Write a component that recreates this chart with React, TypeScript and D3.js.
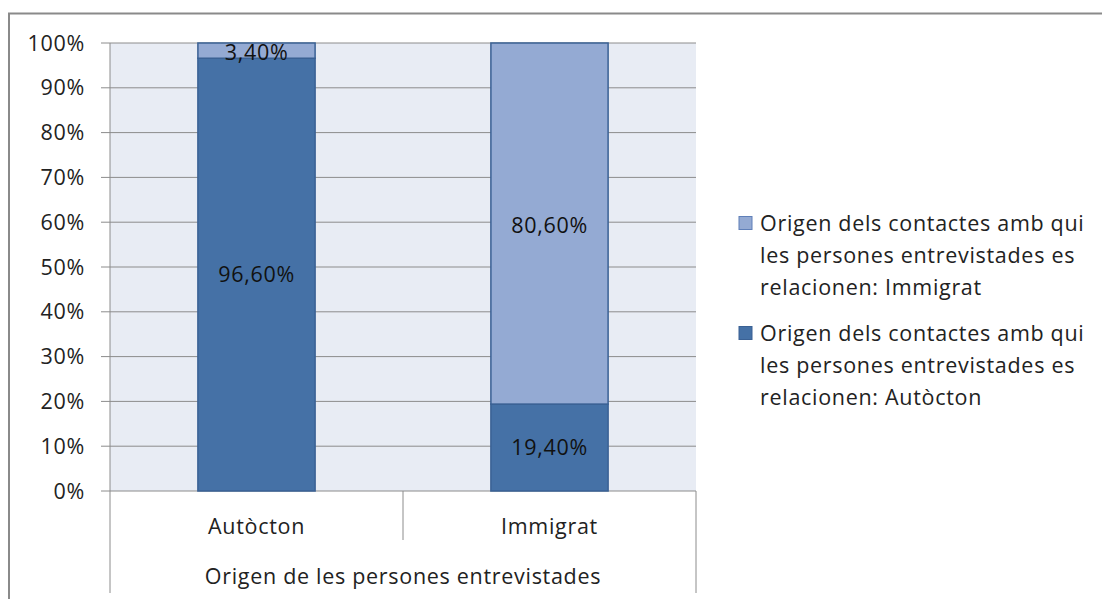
import React from "react";
import * as d3 from "d3";

const categories = ["Autòcton", "Immigrat"];
const autocton = [96.6, 19.4];
const immigrat = [3.4, 80.6];
const yTicks = [0, 10, 20, 30, 40, 50, 60, 70, 80, 90, 100];
const groupLabel = "Origen de les persones entrevistades";
const legendItems = [
  { lines: ["Origen dels contactes amb qui", "les persones entrevistades es", "relacionen: Immigrat"], color: "#94AAD3", stroke: "#5F7FB8" },
  { lines: ["Origen dels contactes amb qui", "les persones entrevistades es", "relacionen: Autòcton"], color: "#4571A6", stroke: "#3A6194" },
];

const fmt = (v: number) => v.toFixed(2).replace(".", ",") + "%";

export default function App() {
  const W = 1102, H = 599;
  const left = 110, right = 696, top = 43, bottom = 491;
  const x = d3.scaleBand().domain(categories).range([left, right]).paddingInner(0.6).paddingOuter(0.3);
  const xc = d3.scaleBand().domain(categories).range([left, right]);
  const y = d3.scaleLinear().domain([0, 100]).range([bottom, top]);
  const font = "'Open Sans', sans-serif";
  const fs = 21.5;
  const ls = 0.7;
  const darkFill = "#4571A6", darkStroke = "#3A6194";
  const lightFill = "#94AAD3", lightStroke = "#3A6194";

  return (
    <svg width={W} height={H} style={{ position: "absolute", left: 0, top: 0 }} fontFamily={font} letterSpacing={ls}>
      <rect x={0} y={0} width={W} height={H} fill="#fff" />
      <rect x={9} y={13.5} width={W + 20} height={H + 20} fill="none" stroke="#8a8a8a" strokeWidth={2} />
      <rect x={left} y={top} width={right - left} height={bottom - top} fill="#E8ECF4" />
      {yTicks.map((t) => (
        <g key={t}>
          <line x1={left - 9} x2={right} y1={y(t)} y2={y(t)} stroke="#8c8c8c" strokeWidth={1} />
          <text x={85} y={y(t)} dy="0.35em" textAnchor="end" fontSize={fs} fill="#222">{t}%</text>
        </g>
      ))}
      <line x1={left} x2={left} y1={top} y2={593} stroke="#8c8c8c" />
      <line x1={right} x2={right} y1={bottom} y2={593} stroke="#8c8c8c" />
      <line x1={xc("Immigrat")!} x2={xc("Immigrat")!} y1={bottom} y2={540} stroke="#8c8c8c" />
      {categories.map((c, i) => {
        const bx = x(c)!, bw = x.bandwidth();
        const a = autocton[i], im = immigrat[i];
        return (
          <g key={c}>
            <rect x={bx} y={y(a)} width={bw} height={y(0) - y(a)} fill={darkFill} stroke={darkStroke} strokeWidth={1.5} />
            <rect x={bx} y={y(a + im)} width={bw} height={y(a) - y(a + im)} fill={lightFill} stroke={lightStroke} strokeWidth={1.5} />
            <text x={bx + bw / 2} y={(y(0) + y(a)) / 2} dy="0.35em" textAnchor="middle" fontSize={fs} fill="#111">{fmt(a)}</text>
            <text x={bx + bw / 2} y={(y(a) + y(a + im)) / 2 + 2} dy="0.35em" textAnchor="middle" fontSize={fs} fill="#111">{fmt(im)}</text>
            <text x={xc(c)! + xc.bandwidth() / 2} y={526} dy="0.35em" textAnchor="middle" fontSize={fs} fill="#222">{c}</text>
          </g>
        );
      })}
      <text x={(left + right) / 2} y={576} dy="0.35em" textAnchor="middle" fontSize={fs} fill="#222">{groupLabel}</text>
      {legendItems.map((it, i) => (
        <g key={i} transform={`translate(739, ${223 + i * 110})`}>
          <rect x={0} y={-6.5} width={13} height={13} fill={it.color} stroke={it.stroke} strokeWidth={1} />
          {it.lines.map((l, j) => (
            <text key={j} x={21} y={j * 32} dy="0.35em" fontSize={fs} fill="#222">{l}</text>
          ))}
        </g>
      ))}
    </svg>
  );
}
